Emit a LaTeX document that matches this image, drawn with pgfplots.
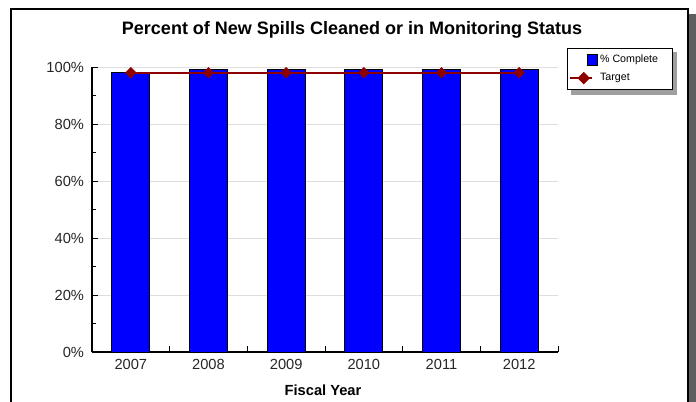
\documentclass[border=0pt]{standalone}
\usepackage{fontspec}
\setmainfont{Liberation Sans}
\usepackage{pgfplots}
\pgfplotsset{compat=1.18}
\definecolor{barblue}{RGB}{0,0,255}
\definecolor{targetred}{RGB}{140,0,0}
\definecolor{gridgray}{RGB}{222,222,222}
\definecolor{shadowgray}{RGB}{95,95,95}

\pgfplotstableread{
x  year complete target
0  2007 98 98
1  2008 99 98
2  2009 99 98
3  2010 99 98
4  2011 99 98
5  2012 99 98
}\spills

\begin{document}
\begin{tikzpicture}
  \useasboundingbox (0,0) rectangle (522pt,300.75pt);
  % outer frame and its shadow
  \fill[shadowgray] (516.75pt,-2pt) rectangle (522pt,290.25pt);
  \draw[line width=0.9pt] (8.25pt,-5pt) -- (8.25pt,294pt) -- (516pt,294pt) -- (516pt,-5pt);
  % shadow behind the legend box
  \fill[gray!75] (428.25pt,229.5pt) rectangle (508pt,261.75pt);

  \begin{axis}[%
    at={(69pt,36.75pt)},%
    anchor=south west,%
    scale only axis,%
    width=349.5pt,%
    height=213.75pt,%
    xmin=-0.5, xmax=5.5,%
    ymin=0, ymax=100,%
    axis x line*=bottom,%
    axis y line*=left,%
    axis line style={line width=0.8pt},%
    xtick={0,...,5},%
    xticklabels={2007,2008,2009,2010,2011,2012},%
    major x tick style={draw=none},%
    extra x ticks={0.5,1.5,2.5,3.5,4.5,5.5},%
    extra x tick labels={},%
    extra x tick style={major tick length=4.5pt, major x tick style={draw=black, line width=0.6pt}, grid=none},%
    ytick={0,20,...,100},%
    minor y tick num=1,%
    major tick length=4.5pt,%
    minor tick length=3pt,%
    tick style={line width=0.6pt, black},%
    tick align=inside,%
    ymajorgrids,%
    grid style={gridgray, line width=0.6pt},%
    yticklabel={\pgfmathprintnumber{\tick}\%},%
    /pgf/number format/assume math mode=true,%
    ticklabel style={font=\fontsize{11}{13}\selectfont, text=black!85},%
    yticklabel style={xshift=-2.5pt},%
    xticklabel style={yshift=-2pt},%
    legend style={%
      at={(rel axis cs:1,1)}, anchor=north west,%
      xshift=6.75pt, yshift=14.25pt,%
      font=\fontsize{8}{9.5}\selectfont,%
      draw=black, line width=0.6pt, fill=white,%
      inner xsep=1.5pt, inner ysep=3pt,%
      row sep=2.5pt,%
      cells={anchor=west},%
    },%
    legend cell align=left,%
  ]
    \addplot[ybar, bar width=28.5pt, fill=barblue, draw=black, line width=0.7pt,
      legend image code/.code={\draw[fill=barblue, draw=black, line width=0.5pt] (12.5pt,-4pt) rectangle (20pt,4pt);}]
      table[x=x, y=complete] {\spills};
    \addlegendentry{\makebox[50.5pt][l]{\% Complete}}
    \addplot[targetred, line width=1.5pt, mark=square*, mark size=2.8pt,
      mark options={rotate=45, fill=targetred, draw=targetred, line width=0.4pt},
      legend image code/.code={%
        \draw[targetred, line width=1.5pt] (0pt,0pt) -- (16pt,0pt);
        \fill[targetred] (10pt,3.6pt) -- (13.6pt,0pt) -- (10pt,-3.6pt) -- (6.4pt,0pt) -- cycle;}]
      table[x=x, y=target] {\spills};
    \addlegendentry{\makebox[50.5pt][l]{Target}}
  \end{axis}

  \node[font=\fontsize{13.5}{16}\selectfont\bfseries] at (264pt,278.25pt)
    {Percent of New Spills Cleaned or in Monitoring Status};
  \node[font=\fontsize{11}{13}\selectfont\bfseries] at (242.25pt,8.25pt) {Fiscal Year};
\end{tikzpicture}
\end{document}
